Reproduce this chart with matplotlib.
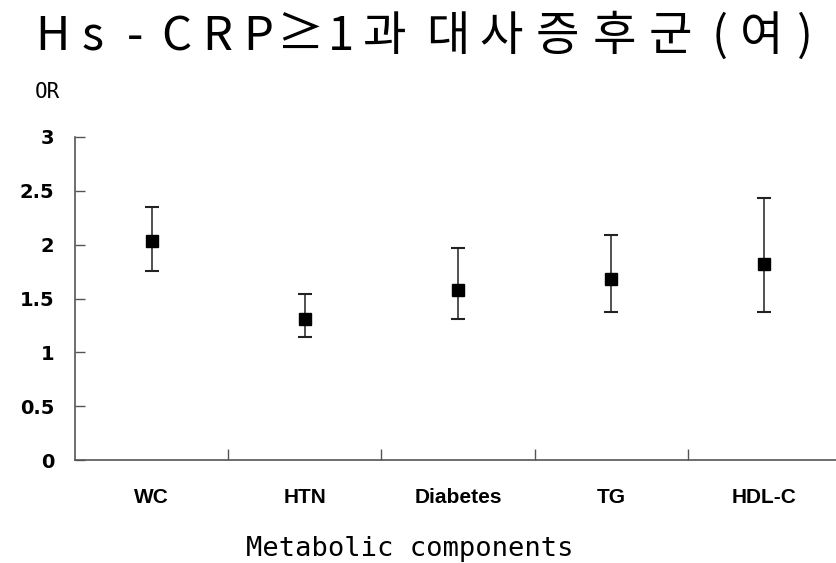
import numpy as np
import matplotlib
matplotlib.use("Agg")
import matplotlib.pyplot as plt

# data
categories = ["WC", "HTN", "Diabetes", "TG", "HDL-C"]
odds_ratio = [2.03, 1.31, 1.58, 1.68, 1.82]
ci_low = [1.76, 1.14, 1.31, 1.37, 1.37]
ci_high = [2.35, 1.54, 1.97, 2.09, 2.43]
yticks = [0, 0.5, 1, 1.5, 2, 2.5, 3]
ytick_labels = ["0", "0.5", "1", "1.5", "2", "2.5", "3"]

title = "Hs-CRP≥1과 대사증후군(여)"
# x centre of each title character, in pixels (the original is letter-spaced)
title_x = [52, 93, 135, 176, 217, 258, 300, 341, 384,
           448, 501, 557, 614, 670, 720, 762, 805]
title_chars = [c for c in title if c != " "]

W, H = 836, 563
fig = plt.figure(figsize=(W / 100, H / 100), dpi=100)

ax = fig.add_axes([75 / W, (H - 460) / H, 766 / W, (460 - 137) / H])

x = np.arange(len(categories))
or_arr = np.array(odds_ratio)
err = [or_arr - np.array(ci_low), np.array(ci_high) - or_arr]
ax.errorbar(x, or_arr, yerr=err, fmt="s", color="black", ms=8,
            ecolor="#222222", elinewidth=1.1, capsize=5, capthick=1.5)

ax.set_xlim(-0.5, len(categories) - 0.5)
ax.set_ylim(0, 3)
ax.set_yticks(yticks)
ax.set_yticklabels(ytick_labels, fontfamily="DejaVu Sans",
                   fontweight="bold", fontsize=14)
ax.tick_params(axis="y", direction="in", length=7, width=1, pad=15,
               color="#555555")

ax.set_xticks(x)
ax.set_xticklabels(categories, fontfamily="Liberation Sans",
                   fontweight="bold", fontsize=15)
ax.tick_params(axis="x", which="major", length=0, pad=20)
ax.set_xticks(x[:-1] + 0.5, minor=True)
ax.tick_params(axis="x", which="minor", direction="in", length=8,
               width=1, color="#555555")

for s in ["top", "right"]:
    ax.spines[s].set_visible(False)
for s in ["left", "bottom"]:
    ax.spines[s].set_color("#555555")
    ax.spines[s].set_linewidth(1.2)

for ch, px in zip(title_chars, title_x):
    fig.text(px / W, 1 - 37 / H, ch, ha="center", va="center",
             fontsize=34, fontfamily=["Noto Sans CJK KR", "DejaVu Sans"],
             fontweight="light")

fig.text(35 / W, 1 - 92 / H, "OR", ha="left", va="center",
         fontsize=15, fontfamily="DejaVu Sans Mono")
fig.text(410 / W, 1 - 549 / H, "Metabolic components", ha="center",
         va="center", fontsize=19.5, fontfamily="DejaVu Sans Mono")

fig.savefig("out.png", dpi=100)
